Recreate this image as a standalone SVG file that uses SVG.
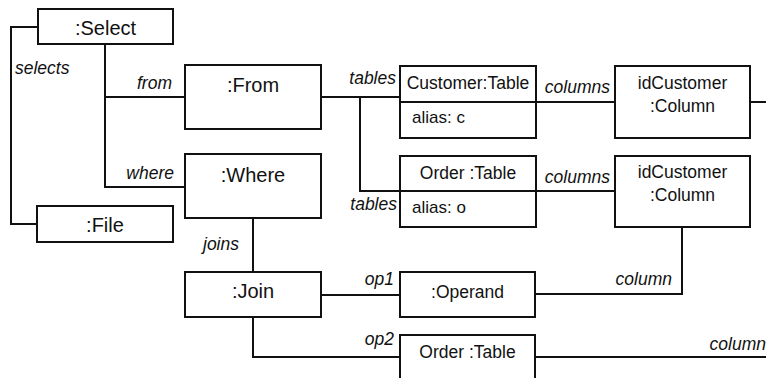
<svg xmlns="http://www.w3.org/2000/svg" width="766" height="378" viewBox="0 0 766 378">
<style>
.box{fill:#fff;stroke:#111;stroke-width:2}
.ln{fill:none;stroke:#111;stroke-width:2}
.t{font-family:"Liberation Sans",Arial,sans-serif;fill:#111}
.big{font-size:20px;text-anchor:middle}
.mid{font-size:17.5px;text-anchor:middle}
.al{font-size:17px}
.lb{font-family:"Liberation Sans",Arial,sans-serif;font-size:17.5px;font-style:italic;fill:#111}
.e{text-anchor:end}
</style>
<rect width="766" height="378" fill="#fff"/>
<g id="connectors">
<polyline class="ln" points="38,27 11,27 11,224 37,224"/>
<polyline class="ln" points="105,44 105,187 185,187"/>
<line class="ln" x1="105" y1="97" x2="185" y2="97"/>
<line class="ln" x1="321" y1="97" x2="400" y2="97"/>
<polyline class="ln" points="360,97 360,191 400,191"/>
<line class="ln" x1="536" y1="102" x2="615" y2="102"/>
<line class="ln" x1="750" y1="102" x2="766" y2="102"/>
<line class="ln" x1="536" y1="191" x2="615" y2="191"/>
<line class="ln" x1="253" y1="218" x2="253" y2="272"/>
<line class="ln" x1="321" y1="295" x2="400" y2="295"/>
<polyline class="ln" points="535,294 682,294 682,227"/>
<polyline class="ln" points="253,317 253,357 400,357"/>
<line class="ln" x1="535" y1="357" x2="766" y2="357"/>
<text class="lb" x="15" y="74">selects</text>
<text class="lb e" x="172" y="89">from</text>
<text class="lb e" x="174" y="179">where</text>
<text class="lb e" x="396" y="84">tables</text>
<text class="lb e" x="397" y="210">tables</text>
<text class="lb e" x="610" y="93">columns</text>
<text class="lb e" x="610" y="183">columns</text>
<text class="lb" x="203" y="250">joins</text>
<text class="lb e" x="394" y="285">op1</text>
<text class="lb e" x="394" y="345">op2</text>
<text class="lb e" x="672" y="285">column</text>
<text class="lb e" x="766" y="350">column</text>
</g>
<g id="select"><rect class="box" x="38" y="9" width="135" height="35"/><text class="t big" x="105.5" y="35">:Select</text></g>
<g id="file"><rect class="box" x="37" y="206" width="136" height="36"/><text class="t big" x="105" y="232">:File</text></g>
<g id="from"><rect class="box" x="185" y="65" width="136" height="64"/><text class="t big" x="253" y="92">:From</text></g>
<g id="where"><rect class="box" x="185" y="154" width="136" height="64"/><text class="t big" x="253" y="182">:Where</text></g>
<g id="join"><rect class="box" x="185" y="272" width="136" height="45"/><text class="t big" x="253" y="298">:Join</text></g>
<g id="customerTable"><rect class="box" x="400" y="66" width="136" height="72"/><line class="ln" x1="400" y1="102" x2="536" y2="102"/><text class="t mid" x="468" y="89">Customer:Table</text><text class="t al" x="412" y="123">alias: c</text></g>
<g id="orderTable"><rect class="box" x="400" y="156" width="136" height="71"/><line class="ln" x1="400" y1="191" x2="536" y2="191"/><text class="t mid" x="468" y="179">Order :Table</text><text class="t al" x="412" y="213">alias: o</text></g>
<g id="column1"><rect class="box" x="615" y="66" width="135" height="72"/><text class="t mid" x="682.5" y="89">idCustomer</text><text class="t mid" x="682.5" y="112">:Column</text></g>
<g id="column2"><rect class="box" x="615" y="156" width="135" height="71"/><text class="t mid" x="682.5" y="178">idCustomer</text><text class="t mid" x="682.5" y="201">:Column</text></g>
<g id="operand"><rect class="box" x="400" y="272" width="135" height="45"/><text class="t mid" x="467.5" y="298">:Operand</text></g>
<g id="orderTable2"><rect class="box" x="400" y="335" width="135" height="60"/><text class="t mid" x="467.5" y="358">Order :Table</text></g>
</svg>
